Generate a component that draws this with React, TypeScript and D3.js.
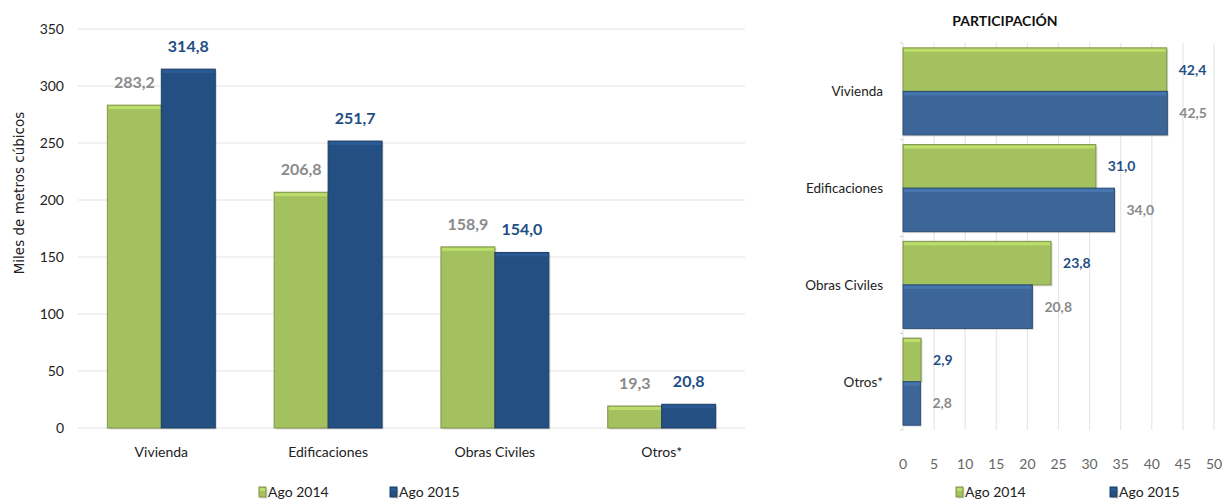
import React, { useEffect, useRef } from "react";
import * as d3 from "d3";

const categories = ["Vivienda", "Edificaciones", "Obras Civiles", "Otros*"];
const seriesNames = ["Ago 2014", "Ago 2015"];
const volume2014 = [283.2, 206.8, 158.9, 19.3];
const volume2015 = [314.8, 251.7, 154.0, 20.8];
const share2014 = [42.4, 31.0, 23.8, 2.9];
const share2015 = [42.5, 34.0, 20.8, 2.8];
const volumeTicks = [0, 50, 100, 150, 200, 250, 300, 350];
const shareTicks = [0, 5, 10, 15, 20, 25, 30, 35, 40, 45, 50];

const FONT = "Lato, 'Open Sans', sans-serif";
const GREEN = "#a3c15e";
const BLUE = "#244f82";
const BLUE_R = "#3c6698";
const fmt = (v: number) => v.toFixed(1).replace(".", ",");

const App = () => {
  const ref = useRef<SVGSVGElement>(null);

  useEffect(() => {
    const svg = d3.select(ref.current);
    svg.selectAll("*").remove();

    // bar with a light top edge and soft shadow, like the office bevel
    const bevel = (g: any, x: number, y: number, w: number, h: number, fill: string) => {
      const c = d3.color(fill)!;
      g.append("rect").attr("x", x + 1.5).attr("y", y + 1.5).attr("width", w).attr("height", h)
        .attr("fill", "#000").attr("opacity", 0.15);
      g.append("rect").attr("x", x).attr("y", y).attr("width", w).attr("height", h)
        .attr("fill", fill).attr("stroke", c.darker(0.7).toString()).attr("stroke-width", 1);
      g.append("rect").attr("x", x + 1).attr("y", y + 1).attr("width", Math.max(0, w - 2)).attr("height", Math.min(3, h - 1))
        .attr("fill", c.brighter(0.4).toString());
    };

    // ---------- left chart: volumes ----------
    const left = { x0: 78, x1: 745, y0: 428, y1: 29 };
    const y = d3.scaleLinear().domain([0, 350]).range([left.y0, left.y1]);
    const x = d3.scaleBand().domain(categories).range([left.x0, left.x1]).paddingInner(0.353).paddingOuter(0.176);
    const xs = d3.scaleBand().domain(seriesNames).range([0, x.bandwidth()]);

    const L = svg.append("g");
    L.selectAll("line.grid").data(volumeTicks).enter().append("line")
      .attr("x1", left.x0).attr("x2", left.x1).attr("y1", (d) => y(d)).attr("y2", (d) => y(d))
      .attr("stroke", "#e3e3e3").attr("stroke-width", 1.2);
    L.selectAll("text.tick").data(volumeTicks).enter().append("text")
      .attr("x", 64).attr("y", (d) => y(d) + 5).attr("text-anchor", "end")
      .attr("font-family", FONT).attr("font-size", 14).attr("fill", "#222").text((d) => d);
    L.append("text").attr("transform", `translate(24,193) rotate(-90)`).attr("text-anchor", "middle")
      .attr("font-family", "'DejaVu Sans', sans-serif").attr("font-size", 13.5).attr("fill", "#222")
      .text("Miles de metros cúbicos");

    categories.forEach((c, i) => {
      const vals = [volume2014[i], volume2015[i]];
      vals.forEach((v, j) => {
        const bx = x(c)! + xs(seriesNames[j])!;
        bevel(L, bx, y(v), xs.bandwidth(), y(0) - y(v), j === 0 ? GREEN : BLUE);
        L.append("text").attr("x", bx + xs.bandwidth() / 2).attr("y", y(v) - 17)
          .attr("text-anchor", "middle").attr("font-family", FONT).attr("font-weight", "bold").attr("font-size", 16)
          .attr("fill", j === 0 ? "#8a8a8a" : "#1f4e85").text(fmt(v));
      });
      L.append("text").attr("x", x(c)! + x.bandwidth() / 2).attr("y", 457).attr("text-anchor", "middle")
        .attr("font-family", FONT).attr("font-size", 14).attr("fill", "#222").text(c);
    });

    // ---------- right chart: share ----------
    const right = { x0: 903, x1: 1214, y0: 43, y1: 430 };
    const sx = d3.scaleLinear().domain([0, 50]).range([right.x0, right.x1]);
    const sy = d3.scaleBand().domain(categories).range([right.y0, right.y1]).paddingInner(0.1).paddingOuter(0.05);
    const sys = d3.scaleBand().domain(seriesNames).range([0, sy.bandwidth()]);
    const step = (right.y1 - right.y0) / categories.length;

    const R = svg.append("g");
    R.append("text").attr("x", 1005).attr("y", 26).attr("text-anchor", "middle")
      .attr("font-family", FONT).attr("font-weight", "bold").attr("font-size", 14).attr("fill", "#111")
      .text("PARTICIPACIÓN");
    R.selectAll("line.grid").data(shareTicks.slice(1)).enter().append("line")
      .attr("x1", (d) => sx(d)).attr("x2", (d) => sx(d)).attr("y1", right.y0).attr("y2", right.y1)
      .attr("stroke", "#e6e6e6").attr("stroke-width", 1.2);
    R.append("line").attr("x1", right.x0).attr("x2", right.x0).attr("y1", right.y0).attr("y2", right.y1)
      .attr("stroke", "#e0e0e0");
    d3.range(categories.length + 1).forEach((k) => {
      R.append("line").attr("x1", right.x0 - 3).attr("x2", right.x0).attr("y1", right.y0 + k * step).attr("y2", right.y0 + k * step)
        .attr("stroke", "#d0d0d0");
    });
    R.selectAll("text.tick").data(shareTicks).enter().append("text")
      .attr("x", (d) => sx(d)).attr("y", 469).attr("text-anchor", "middle")
      .attr("font-family", FONT).attr("font-size", 14).attr("fill", "#666").text((d) => d);

    categories.forEach((c, i) => {
      const vals = [share2014[i], share2015[i]];
      vals.forEach((v, j) => {
        const by = sy(c)! + sys(seriesNames[j])!;
        bevel(R, sx(0), by, sx(v) - sx(0), sys.bandwidth(), j === 0 ? GREEN : BLUE_R);
        R.append("text").attr("x", sx(v) + 12).attr("y", by + sys.bandwidth() / 2 + 5)
          .attr("font-family", FONT).attr("font-weight", "bold").attr("font-size", 14)
          .attr("fill", j === 0 ? "#1f4e85" : "#8a8a8a").text(fmt(v));
      });
      R.append("text").attr("x", 883).attr("y", sy(c)! + sy.bandwidth() / 2 + 5).attr("text-anchor", "end")
        .attr("font-family", FONT).attr("font-size", 13.5).attr("fill", "#222").text(c);
    });

    // ---------- legends ----------
    const legend = (g: any, positions: number[]) => {
      seriesNames.forEach((s, j) => {
        const lx = positions[j];
        bevel(g, lx, 487, 7, 10, j === 0 ? GREEN : BLUE);
        g.append("text").attr("x", lx + 9).attr("y", 497).attr("font-family", FONT).attr("font-size", 14)
          .attr("fill", "#222").text(s);
      });
    };
    legend(L, [259, 390]);
    legend(R, [956, 1110]);
  }, []);

  return <svg ref={ref} width={1223} height={504} style={{ position: "absolute", left: 0, top: 0 }} />;
};

export default App;
